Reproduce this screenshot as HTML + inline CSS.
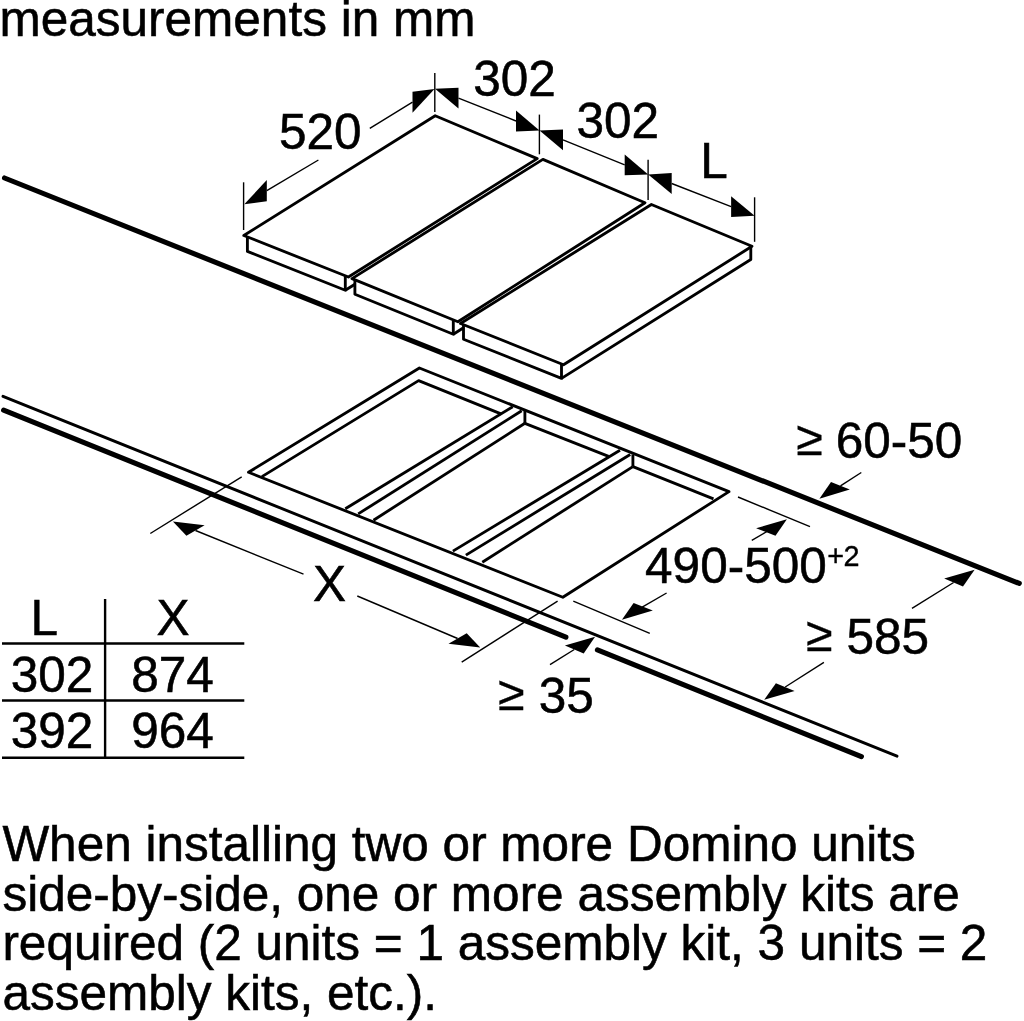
<!DOCTYPE html>
<html><head><meta charset="utf-8"><style>
html,body{margin:0;padding:0;background:#fff;width:1024px;height:1021px;overflow:hidden}
svg{display:block}
text{font-family:"Liberation Sans",sans-serif;fill:#000;stroke:#000;stroke-width:0.55px}
</style></head><body>
<svg width="1024" height="1021" viewBox="0 0 1024 1021" style="will-change:transform">
<g stroke="#000" fill="none">
<line x1="4.5" y1="178.0" x2="1019.3" y2="583.4" stroke-width="5.1" stroke-linecap="round"/>
<line x1="3.0" y1="396.3" x2="897.0" y2="756.2" stroke-width="2.9" stroke-linecap="round"/>
<line x1="3.6" y1="410.1" x2="565.9" y2="637.2" stroke-width="5.1" stroke-linecap="round"/>
<line x1="597.4" y1="649.9" x2="861.4" y2="756.6" stroke-width="5.1" stroke-linecap="round"/>
<polygon points="243.8,235.5 435.2,115.8 537.2,158.6 348.4,277.0" fill="none" stroke-width="2.85" stroke-linejoin="round"/>
<polyline points="247.4,236.9 247.4,251.4 345.3,290.3 345.3,275.8" fill="none" stroke-width="2.85" stroke-linejoin="round"/>
<polyline points="345.3,290.3 354.9,284.2" fill="none" stroke-width="2.85" stroke-linejoin="round"/>
<polygon points="352.0,278.6 542.9,159.4 645.0,202.8 457.9,321.7" fill="none" stroke-width="2.85" stroke-linejoin="round"/>
<polyline points="354.9,279.8 354.9,294.3 453.3,334.3 453.3,319.8" fill="none" stroke-width="2.85" stroke-linejoin="round"/>
<polyline points="453.3,334.3 463.5,327.8" fill="none" stroke-width="2.85" stroke-linejoin="round"/>
<polygon points="460.5,323.5 651.4,204.5 752.0,246.3 563.5,364.7" fill="none" stroke-width="2.85" stroke-linejoin="round"/>
<polyline points="463.5,324.7 463.5,339.2 561.5,378.4 561.5,363.9" fill="none" stroke-width="2.85" stroke-linejoin="round"/>
<polyline points="561.5,378.4 750.8,259.5 750.8,247.3" fill="none" stroke-width="2.85" stroke-linejoin="round"/>
<line x1="243.6" y1="182.3" x2="243.6" y2="230.0" stroke-width="1.4" stroke-linecap="butt"/>
<line x1="434.8" y1="73.0" x2="434.8" y2="112.0" stroke-width="1.4" stroke-linecap="butt"/>
<line x1="539.4" y1="114.6" x2="539.4" y2="154.3" stroke-width="1.4" stroke-linecap="butt"/>
<line x1="648.1" y1="159.7" x2="648.1" y2="200.0" stroke-width="1.4" stroke-linecap="butt"/>
<line x1="754.6" y1="197.3" x2="754.6" y2="241.8" stroke-width="1.4" stroke-linecap="butt"/>
<polygon points="244.3,204.3 266.8,201.3 266.8,180.1" fill="#000" stroke="none"/>
<polygon points="434.5,88.9 412.5,112.7 412.5,91.7" fill="#000" stroke="none"/>
<line x1="266.8" y1="190.7" x2="318.4" y2="160.0" stroke-width="1.4" stroke-linecap="butt"/>
<line x1="369.8" y1="128.4" x2="412.5" y2="102.2" stroke-width="1.4" stroke-linecap="butt"/>
<polygon points="435.0,88.8 458.5,108.6 458.5,87.8" fill="#000" stroke="none"/>
<polygon points="539.5,130.4 516.0,131.4 516.0,110.6" fill="#000" stroke="none"/>
<line x1="458.5" y1="98.2" x2="516.0" y2="121.0" stroke-width="1.4" stroke-linecap="butt"/>
<polygon points="539.5,130.4 563.0,150.3 563.0,129.5" fill="#000" stroke="none"/>
<polygon points="648.2,174.4 624.7,175.3 624.7,154.5" fill="#000" stroke="none"/>
<line x1="563.0" y1="139.9" x2="624.7" y2="164.9" stroke-width="1.4" stroke-linecap="butt"/>
<polygon points="648.2,174.4 671.7,193.9 671.7,173.1" fill="#000" stroke="none"/>
<polygon points="754.6,215.8 731.1,217.1 731.1,196.3" fill="#000" stroke="none"/>
<line x1="671.7" y1="183.5" x2="731.1" y2="206.7" stroke-width="1.4" stroke-linecap="butt"/>
<polygon points="248.5,472.3 419.4,368.0 729.0,491.6 562.8,597.2" fill="none" stroke-width="2.85" stroke-linejoin="round"/>
<polyline points="261.9,476.6 418.6,380.6 501.0,413.9" fill="none" stroke-width="2.85" stroke-linejoin="round"/>
<line x1="524.9" y1="423.3" x2="608.6" y2="456.4" stroke-width="2.85" stroke-linecap="butt"/>
<line x1="632.9" y1="466.6" x2="713.5" y2="498.9" stroke-width="2.85" stroke-linecap="butt"/>
<line x1="345.3" y1="508.8" x2="512.7" y2="406.8" stroke-width="2.85" stroke-linecap="butt"/>
<line x1="358.2" y1="513.9" x2="521.7" y2="410.8" stroke-width="2.85" stroke-linecap="butt"/>
<line x1="373.5" y1="520.2" x2="524.9" y2="423.3" stroke-width="2.85" stroke-linecap="butt"/>
<line x1="524.9" y1="410.8" x2="524.9" y2="423.3" stroke-width="2.85" stroke-linecap="butt"/>
<line x1="452.9" y1="551.1" x2="620.0" y2="450.2" stroke-width="2.85" stroke-linecap="butt"/>
<line x1="465.9" y1="555.1" x2="630.2" y2="454.5" stroke-width="2.85" stroke-linecap="butt"/>
<line x1="482.3" y1="562.2" x2="632.9" y2="466.6" stroke-width="2.85" stroke-linecap="butt"/>
<line x1="632.9" y1="454.5" x2="632.9" y2="466.6" stroke-width="2.85" stroke-linecap="butt"/>
<line x1="150.3" y1="533.5" x2="241.7" y2="476.8" stroke-width="1.4" stroke-linecap="butt"/>
<line x1="461.7" y1="662.1" x2="557.6" y2="601.2" stroke-width="1.4" stroke-linecap="butt"/>
<polygon points="172.9,521.4 204.6,525.2 186.4,535.8" fill="#000" stroke="none"/>
<polygon points="480.2,647.6 466.7,633.2 448.5,643.8" fill="#000" stroke="none"/>
<line x1="195.5" y1="530.5" x2="303.5" y2="574.2" stroke-width="1.4" stroke-linecap="butt"/>
<line x1="357.3" y1="596.0" x2="457.6" y2="638.5" stroke-width="1.4" stroke-linecap="butt"/>
<line x1="738.0" y1="497.0" x2="810.0" y2="526.6" stroke-width="1.4" stroke-linecap="butt"/>
<line x1="573.3" y1="601.2" x2="649.8" y2="633.3" stroke-width="1.4" stroke-linecap="butt"/>
<polygon points="786.9,519.2 775.5,535.7 756.1,528.3" fill="#000" stroke="none"/>
<polygon points="621.9,619.8 652.8,610.6 633.6,603.0" fill="#000" stroke="none"/>
<line x1="751.8" y1="540.3" x2="767.0" y2="531.5" stroke-width="1.4" stroke-linecap="butt"/>
<line x1="666.6" y1="593.0" x2="642.2" y2="607.1" stroke-width="1.4" stroke-linecap="butt"/>
<polygon points="819.4,498.7 849.8,489.6 831.0,482.0" fill="#000" stroke="none"/>
<line x1="840.5" y1="485.8" x2="861.3" y2="472.5" stroke-width="1.4" stroke-linecap="butt"/>
<polygon points="974.6,569.7 963.0,586.4 944.2,578.6" fill="#000" stroke="none"/>
<line x1="953.6" y1="582.5" x2="912.0" y2="608.3" stroke-width="1.4" stroke-linecap="butt"/>
<polygon points="764.2,699.7 794.6,690.9 775.9,683.2" fill="#000" stroke="none"/>
<line x1="785.2" y1="687.0" x2="823.9" y2="662.3" stroke-width="1.4" stroke-linecap="butt"/>
<polygon points="595.1,636.8 583.7,653.5 564.9,645.6" fill="#000" stroke="none"/>
<line x1="574.3" y1="649.5" x2="550.0" y2="664.6" stroke-width="1.4" stroke-linecap="butt"/>
<line x1="105.1" y1="599.0" x2="105.1" y2="758.8" stroke-width="2.4" stroke-linecap="butt"/>
<line x1="2.0" y1="643.6" x2="244.3" y2="643.6" stroke-width="2.5" stroke-linecap="butt"/>
<line x1="2.0" y1="700.5" x2="244.3" y2="700.5" stroke-width="2.5" stroke-linecap="butt"/>
<line x1="2.0" y1="757.8" x2="244.3" y2="757.8" stroke-width="2.5" stroke-linecap="butt"/>
</g>
<g>
<text x="-0.5" y="35.6" font-size="49.5">measurements in mm</text>
<text x="279.0" y="149.3" font-size="49.5">520</text>
<text x="473.2" y="95.6" font-size="49.5">302</text>
<text x="576.5" y="137.6" font-size="49.5">302</text>
<text x="700.3" y="178.2" font-size="49.5">L</text>
<text x="796.2" y="455.15" font-size="48.5" style="stroke-width:0.3px">≥</text>
<text x="835.7" y="458.2" font-size="49.5">60-50</text>
<text x="645.1" y="583.2" font-size="49.5">490-500</text>
<text x="827.2" y="566.0" font-size="28.8" style="stroke-width:0.4px">+</text>
<text x="843.55" y="566.1" font-size="28.8" style="stroke-width:0.4px">2</text>
<text x="313.0" y="600.6" font-size="49.5">X</text>
<text x="805.9" y="651.05" font-size="48.5" style="stroke-width:0.3px">≥</text>
<text x="846.5" y="654.0" font-size="49.5">585</text>
<text x="498.1" y="709.75" font-size="48.5" style="stroke-width:0.3px">≥</text>
<text x="538.8" y="713.2" font-size="49.5">35</text>
<text x="30.5" y="635.4" font-size="49.5">L</text>
<text x="156.4" y="635.4" font-size="49.5">X</text>
<text x="10.7" y="691.7" font-size="49.5">302</text>
<text x="131.3" y="691.7" font-size="49.5">874</text>
<text x="10.7" y="747.6" font-size="49.5">392</text>
<text x="131.3" y="747.6" font-size="49.5">964</text>
<text x="2.4" y="860.9" font-size="49.5">When installing two or more Domino units</text>
<text x="2.4" y="910.5" font-size="49.5">side-by-side, one or more assembly kits are</text>
<text x="2.4" y="960.0" font-size="49.5">required (2 units = 1 assembly kit, 3 units = 2</text>
<text x="2.4" y="1009.6" font-size="49.5">assembly kits, etc.).</text>
</g>
</svg>
</body></html>
